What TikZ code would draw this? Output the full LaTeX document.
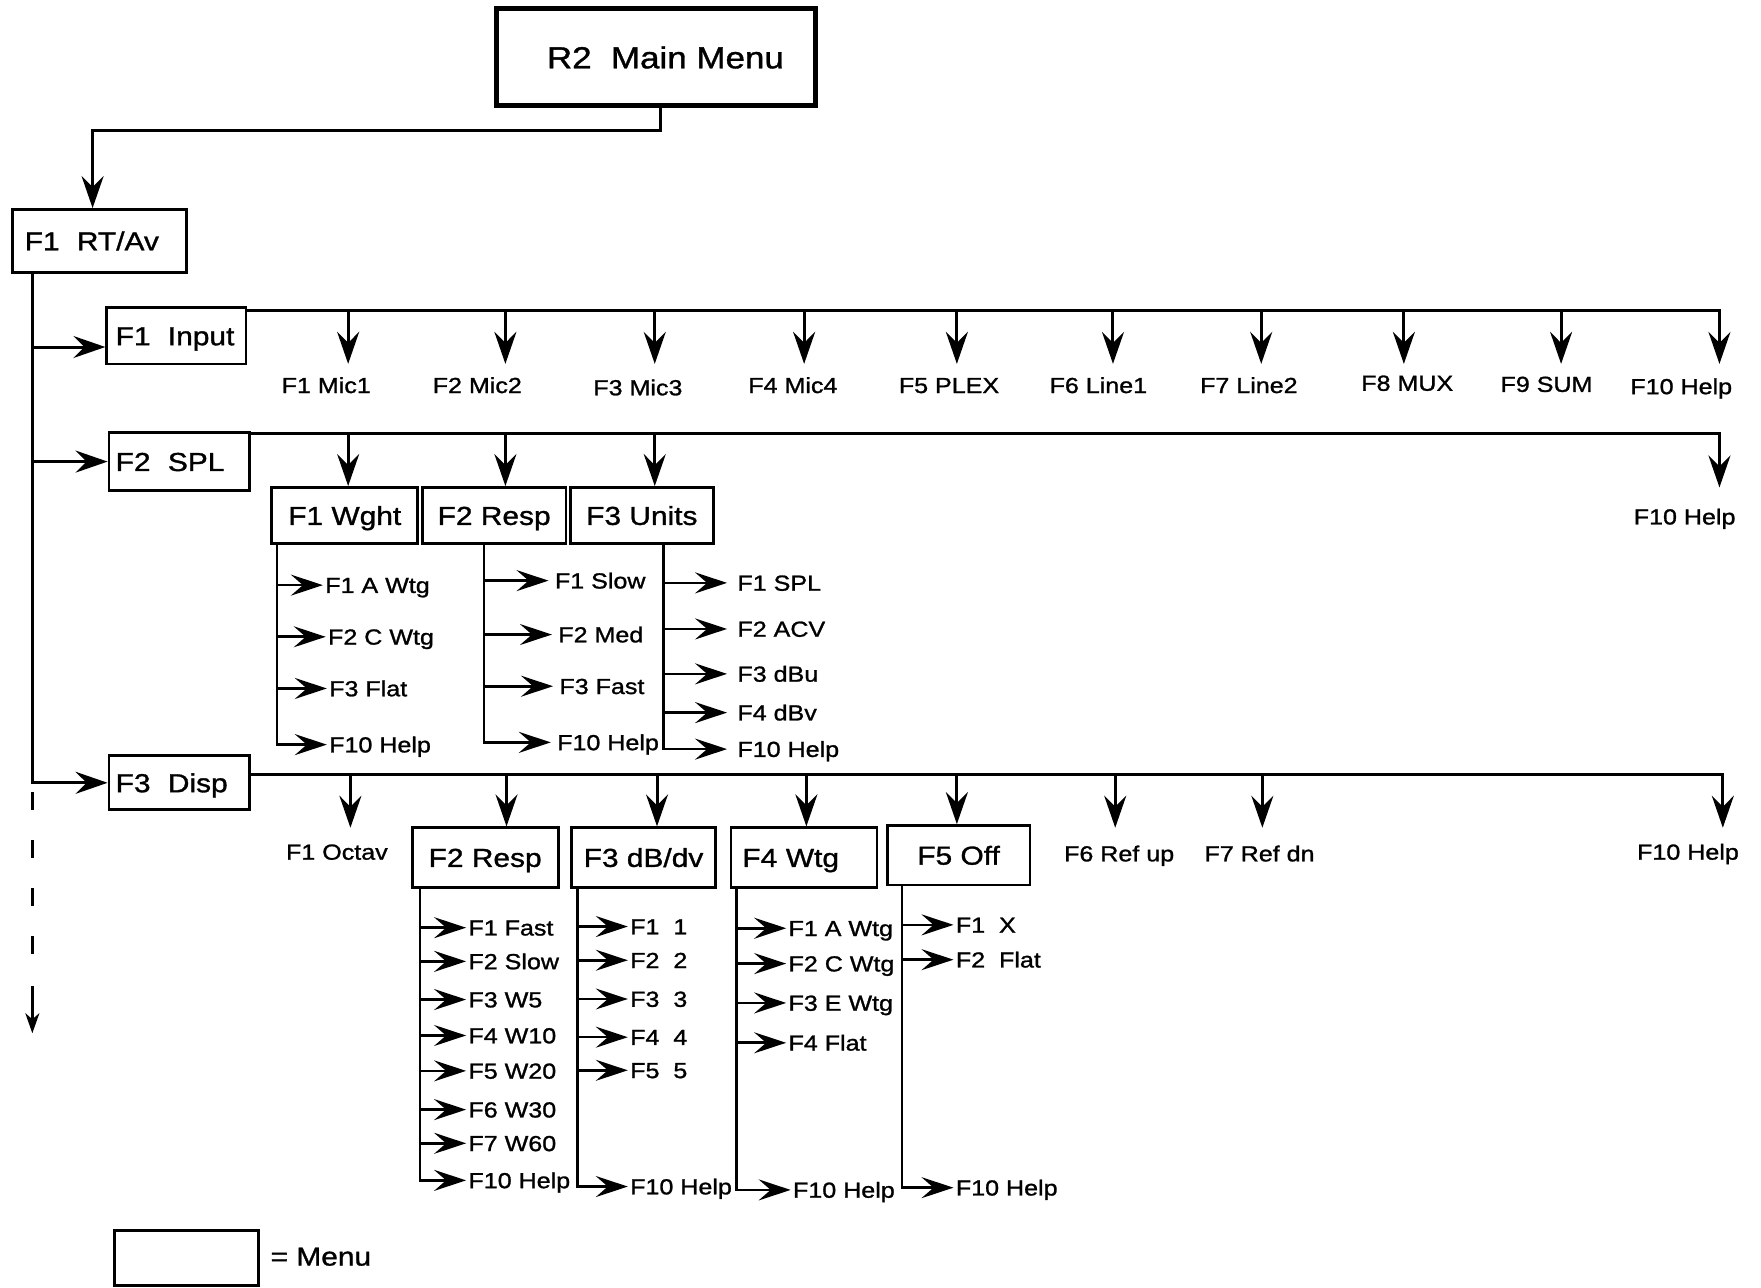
\documentclass[tikz,border=0pt]{standalone}
\usepackage{fontspec}
\setmainfont{Liberation Sans}[FakeStretch=1.15, FakeBold=1.2]
\usetikzlibrary{arrows.meta}
\newcommand\lbfont{\fontsize{10.9}{13}\selectfont}
\newcommand\bxfont{\fontsize{13}{16}\selectfont}
\begin{document}
\begin{tikzpicture}[x=0.5616pt,y=-0.5616pt,
  bx/.style 2 args={minimum width=#1*0.5616pt, minimum height=#2*0.5616pt},
  lbox/.style={text width=#1, align=left},
  box/.style={draw, line width=1.35pt, inner sep=0pt, text height=9.4pt, text depth=0pt, font=\bxfont},
  lab/.style={inner sep=1pt, text height=7.8pt, text depth=0pt, font=\lbfont},
  ln/.style={line width=1.5pt},
  arr/.style={ln, -{Stealth[length=16pt,width=11pt,inset=5.5pt]}},
  karr/.style={line width=1.3pt, -{Stealth[length=16pt,width=10.5pt,inset=6pt]}},
  dashln/.style={line width=1.3pt, dash pattern=on 9pt off 15pt},
  tipln/.style={line width=1.2pt, -{Stealth[length=10pt,width=7pt,inset=3pt]}}
]
\useasboundingbox (0,0) rectangle (1568,1146);

% main menu
\node[box, line width=2.5pt, bx={284}{86}, text height=11pt, font=\fontsize{15.2}{18}\selectfont] (main) at (584.5,51) {\hspace{9pt}R2~~Main Menu};
\node[box, lbox=74.7pt, bx={155}{56}] (rtav) at (88.5,214.5) {\mbox{F1~~RT/Av}};
\draw[arr] ([xshift=2.2pt]main.south) -- ++(0,20) -| ([xshift=-3.4pt]rtav.north);

% level 1 boxes
\node[box, lbox=60.65pt, bx={124}{50}] (input) at (157,299) {\mbox{F1~~Input}};
\node[box, lbox=63.46pt, bx={125}{52}] (spl) at (159.5,411) {\mbox{F2~~SPL}};
\node[box, lbox=63.46pt, bx={125}{48}] (disp) at (159.5,697) {\mbox{F3~~Disp}};

% trunk
\path (rtav.south west) ++(19,0) coordinate (tr);
\draw[arr] (tr) |- (disp.west);
\path ([yshift=-5.6pt]input.west) coordinate (ia);
\draw[arr] (tr |- ia) -- (ia);
\draw[arr] (tr |- spl.west) -- (spl.west);
\path (tr |- disp.west) coordinate (dj);
\path (dj) ++(0,223) coordinate (dend);
\draw[dashln] (dj) ++(0,8) -- ++(0,150);
\draw[tipln] (dj) ++(0,181) -- (dend);

% Input row
\path ([yshift=-2.2pt]input.north east) coordinate (ib);
\foreach \ax/\lx/\ly/\t [count=\i] in {310/290.5/343/F1 Mic1, 450/425/343/F2 Mic2, 583/568/345/F3 Mic3, 716/706/343/F4 Mic4, 852/845/343/F5 PLEX, 991/978/343/F6 Line1, 1123/1112/343/F7 Line2, 1250/1253/341/F8 MUX, 1390/1377/342/F9 SUM, 1531/1497/344/F10 Help}{
  \node[lab] (in\i) at (\lx,\ly) {\t};
  \coordinate (it\i) at (\ax,324);
}
\draw[arr] (ib) -| (it10);
\foreach \i in {1,...,9}{\draw[arr] (ib -| it\i) -- (it\i);}

% SPL row
\path ([yshift=-1.4pt]spl.north east) coordinate (sb);
\node[box, bx={130}{50}] (wght) at (307,459) {F1 Wght};
\node[box, bx={128}{50}] (resp1) at (440,459) {F2 Resp};
\node[box, bx={127}{50}] (units) at (571.5,459) {F3 Units};
\path (wght.north) ++(3,0) coordinate (s1);
\path (resp1.north) ++(10,0) coordinate (s2);
\path (units.north) ++(11.5,0) coordinate (s3);
\coordinate (s4) at (1531,434);
\node[lab] (sh) at (1500,460) {F10 Help};
\draw[arr] (sb) -| (s4);
\foreach \i in {1,2,3}{\draw[arr] (sb -| s\i) -- (s\i);}

% Wght kids
\path (wght.south west) ++(6,0) coordinate (w1);
\foreach \lx/\ly/\t [count=\i] in {287.5/521/F1 A Wtg, 290/567/F2 C Wtg, 291/613/F3 Flat, 291/663/F10 Help}{
  \node[lab,anchor=west] (wk\i) at (\lx,\ly) {\t};}
\foreach \i in {1,2,3}{\draw[karr] (wk\i.west -| w1) -- (wk\i.west);}
\draw[karr] (w1) |- (wk4.west);

% Resp kids
\path (resp1.south west) ++(56,0) coordinate (r1);
\foreach \lx/\ly/\t [count=\i] in {492/517/F1 Slow, 495/565/F2 Med, 496/611/F3 Fast, 494/661/F10 Help}{
  \node[lab,anchor=west] (rk\i) at (\lx,\ly) {\t};}
\foreach \i in {1,2,3}{\draw[karr, shorten >=2pt] (rk\i.west -| r1) -- (rk\i.west);}
\draw[karr, shorten >=2pt] (r1) |- (rk4.west);

% Units kids
\path (units.south west) ++(84,0) coordinate (u1);
\foreach \ly/\t [count=\i] in {519/F1 SPL, 560/F2 ACV, 600/F3 dBu, 634.5/F4 dBv, 667/F10 Help}{
  \node[lab,anchor=west] (uk\i) at (654.5,\ly) {\t};}
\foreach \i in {1,...,4}{\draw[karr, shorten >=4pt] (uk\i.west -| u1) -- (uk\i.west);}
\draw[karr, shorten >=4pt] (u1) |- (uk5.west);

% Disp row
\path ([yshift=-10.1pt]disp.north east) coordinate (db);
\node[box, bx={130}{53}] (resp2) at (432,763.5) {F2 Resp};
\node[box, bx={128}{53}] (dbdv) at (573,763.5) {F3 dB/dv};
\node[box, lbox=61.78pt, bx={130}{53}] (wtg) at (716,763.5) {\mbox{F4 Wtg}};
\node[box, bx={127}{53}] (off) at (853.5,761.5) {F5 Off};
\node[lab] (oct) at (300,758.5) {F1 Octav};
\node[lab] (rup) at (996.5,760) {F6 Ref up};
\node[lab] (rdn) at (1121.5,760) {F7 Ref dn};
\node[lab] (dh) at (1503,758.5) {F10 Help};
\coordinate (d1) at (312,737);
\path (resp2.north) ++(19,0) coordinate (d2);
\path (dbdv.north) ++(12,0) coordinate (d3);
\path (wtg.north) ++(2,0) coordinate (d4);
\path (off.north) ++(-1.5,0) coordinate (d5);
\coordinate (d6) at (993,737);
\coordinate (d7) at (1124,737);
\coordinate (d8) at (1534,737);
\draw[arr] (db) -| (d8);
\foreach \i in {1,...,7}{\draw[arr] (db -| d\i) -- (d\i);}

% Disp Resp kids
\path (resp2.south west) ++(8,0) coordinate (p1);
\foreach \ly/\t [count=\i] in {826/F1 Fast, 856/F2 Slow, 890/F3 W5, 922/F4 W10, 953.5/F5 W20, 988/F6 W30, 1018/F7 W60, 1051/F10 Help}{
  \node[lab,anchor=west] (pk\i) at (415,\ly) {\t};}
\foreach \i in {1,...,7}{\draw[karr] (pk\i.west -| p1) -- (pk\i.west);}
\draw[karr] (p1) |- (pk8.west);

% dB/dv kids
\path (dbdv.south west) ++(6.5,0) coordinate (b1);
\foreach \ly/\t [count=\i] in {825/F1~~1, 855/F2~~2, 889.5/F3~~3, 923.5/F4~~4, 953/F5~~5, 1056.5/F10 Help}{
  \node[lab,anchor=west] (bk\i) at (559,\ly) {\t};}
\foreach \i in {1,...,5}{\draw[karr] (bk\i.west -| b1) -- (bk\i.west);}
\draw[karr] (b1) |- (bk6.west);

% Wtg kids
\path (wtg.south west) ++(6,0) coordinate (g1);
\foreach \lx/\ly/\t [count=\i] in {700/826.5/F1 A Wtg, 700/858/F2 C Wtg, 700/893/F3 E Wtg, 700/928.5/F4 Flat, 704/1059.5/F10 Help}{
  \node[lab,anchor=west] (gk\i) at (\lx,\ly) {\t};}
\foreach \i in {1,...,4}{\draw[karr] (gk\i.west -| g1) -- (gk\i.west);}
\draw[karr] (g1) |- (gk5.west);

% Off kids
\path (off.south west) ++(14.5,0) coordinate (o1);
\foreach \ly/\t [count=\i] in {823.5/F1~~X, 854.5/F2~~Flat, 1057.5/F10 Help}{
  \node[lab,anchor=west] (ok\i) at (849,\ly) {\t};}
\foreach \i in {1,2}{\draw[karr] (ok\i.west -| o1) -- (ok\i.west);}
\draw[karr] (o1) |- (ok3.west);

% legend
\node[box, bx={128}{49}] (leg) at (166,1120) {};
\node[anchor=west, inner sep=0pt, font=\bxfont] (legt) at (240.6,1119) {= Menu};
\end{tikzpicture}
\end{document}
